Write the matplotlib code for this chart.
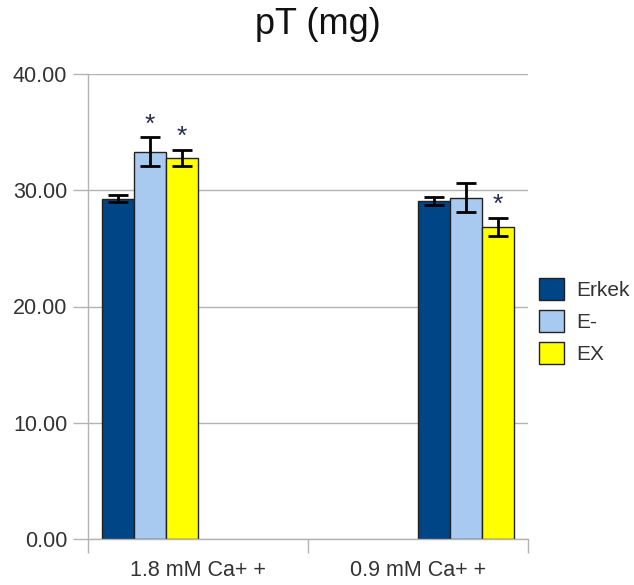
import matplotlib
matplotlib.use("Agg")
import matplotlib.pyplot as plt
import numpy as np

categories = ["1.8 mM Ca+ +", "0.9 mM Ca+ +"]
series = ["Erkek", "E-", "EX"]
values = {
    "Erkek": [29.25, 29.1],
    "E-": [33.3, 29.35],
    "EX": [32.8, 26.85],
}
errors = {
    "Erkek": [0.3, 0.33],
    "E-": [1.25, 1.25],
    "EX": [0.68, 0.78],
}
significant = {
    "Erkek": [False, False],
    "E-": [True, False],
    "EX": [True, True],
}
colors = {"Erkek": "#004586", "E-": "#a8caf0", "EX": "#ffff00"}
yticks = [0, 10, 20, 30, 40]

plt.rcParams['font.family'] = ['Liberation Sans', 'DejaVu Sans']
fig = plt.figure(figsize=(6.34, 5.85), dpi=100)
ax = fig.add_axes([88/634, 46/585, 440/634, 465/585])

# 6 slots per category (first group uses slots 0-2, second slots 3-5)
gap = 0.0636
w = (1 - 2 * gap) / 6
for ci, cat in enumerate(categories):
    for si, s in enumerate(series):
        slot = si if ci == 0 else si + 3
        left = ci + gap + slot * w
        xc = left + w / 2
        v = values[s][ci]
        e = errors[s][ci]
        ax.bar(xc, v, width=w, color=colors[s], edgecolor="#222222",
               linewidth=1.0, zorder=2, label=s if ci == 0 else None)
        ax.errorbar(xc, v, yerr=e, fmt="none", ecolor="black",
                    elinewidth=2, capsize=7, capthick=2, zorder=3)
        if significant[s][ci]:
            ax.text(xc, v + e + 1.1, "*", ha="center", va="center",
                    fontsize=19, color="#2a2a50", zorder=4)

ax.set_xlim(0, 2)
ax.set_ylim(0, 40)
ax.set_yticks(yticks)
ax.set_yticklabels([f"{t:.2f}" for t in yticks], fontsize=15.5, color="#333333")
ax.set_xticks([0, 1, 2])
ax.set_xticklabels([])
ax.set_xticks([0.5, 1.5], minor=True)
ax.set_xticklabels(categories, minor=True, fontsize=15.5, color="#333333")
ax.tick_params(axis="x", which="minor", length=0, pad=15)
ax.tick_params(axis="x", which="major", length=10, color="#b3b3b3", width=1)
ax.tick_params(axis="y", length=11, color="#b3b3b3", width=1, pad=4)
ax.grid(axis="y", color="#b3b3b3", linewidth=1, zorder=0)
ax.set_axisbelow(True)
for sp in ["top", "right"]:
    ax.spines[sp].set_visible(False)
for sp in ["left", "bottom"]:
    ax.spines[sp].set_color("#b3b3b3")
    ax.spines[sp].set_linewidth(1)

fig.text(318/634, 1 - 25/585, "pT (mg)", fontsize=26, ha="center", va="center",
         color="#111111")

leg = fig.legend(loc="upper left", bbox_to_anchor=(533/634, 1 - 272/585),
                 frameon=False, fontsize=15, handlelength=1.2, handleheight=1.2,
                 handletextpad=0.6, labelspacing=0.5, labelcolor="#333333",
                 borderaxespad=0, borderpad=0.3)
for h in leg.legend_handles:
    h.set_edgecolor("#222222")

fig.savefig("out.png", dpi=100)
